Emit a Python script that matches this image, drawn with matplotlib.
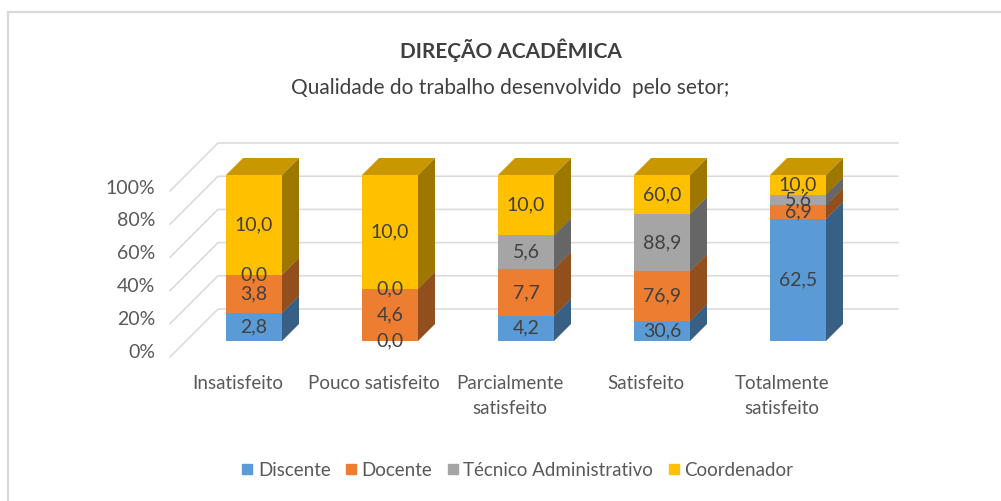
import numpy as np
import matplotlib.pyplot as plt
from matplotlib.lines import Line2D
from matplotlib.colors import to_rgb

plt.rcParams['font.family'] = ['Lato', 'DejaVu Sans']

# dados
categorias = ["Insatisfeito", "Pouco satisfeito", "Parcialmente\nsatisfeito",
              "Satisfeito", "Totalmente\nsatisfeito"]
discente = [2.8, 0.0, 4.2, 30.6, 62.5]
docente = [3.8, 4.6, 7.7, 76.9, 6.9]
tecnico = [0.0, 0.0, 5.6, 88.9, 5.6]
coordenador = [10.0, 10.0, 10.0, 60.0, 10.0]
series = ["Discente", "Docente", "Técnico Administrativo", "Coordenador"]
cores = ["#5B9BD5", "#ED7D31", "#A5A5A5", "#FFC000"]
yticks = [0, 20, 40, 60, 80, 100]

valores = np.array([discente, docente, tecnico, coordenador])
perc = valores / valores.sum(axis=0) * 100

# layout em pixels (projecao obliqua tipo excel 3d)
W, H = 1001, 501
PX = 136.0          # px por categoria
PY = 1.66           # px por ponto percentual
X0, Y0 = 186, 341   # pixel de x=-0.5, y=0 no plano frontal das barras
BW = 56 / PX        # largura da barra
BD = 17             # profundidade da barra (px)
FRENTE = -16        # chao frontal (px)
FUNDO = 32          # parede do fundo (px)


def dz(d):
    return d / PX, d / PY


def escurece(c, f):
    r, g, b = to_rgb(c)
    return (r * f, g * f, b * f)


fig = plt.figure(figsize=(W / 100, H / 100), dpi=100)
ax = fig.add_axes([0, 0, 1, 1])
ax.set_xlim(-0.5 - X0 / PX, -0.5 + (W - X0) / PX)
ax.set_ylim((Y0 - H) / PY, Y0 / PY)
ax.axis('off')

# grade: parede lateral + parede do fundo
fx, fy = dz(FRENTE)
bx, by = dz(FUNDO)
for t in yticks:
    ax.plot([-0.5 + fx, -0.5 + bx, 4.5 + bx], [t + fy, t + by, t + by],
            color="#D9D9D9", lw=1.1, zorder=1)
    ax.text(-0.5 + (155 - X0) / PX, (Y0 - (352 - 1.64 * t)) / PY,
            f"{t}%", ha='right', va='center', fontsize=14, color="#595959")

# barras empilhadas com faces lateral e superior
x = np.arange(len(categorias))
ddx, ddy = dz(BD)
base = np.zeros(len(categorias))
for s in range(len(series)):
    h = perc[s]
    ax.bar(x, h, BW, bottom=base, color=cores[s], zorder=3, linewidth=0)
    for i in range(len(x)):
        if h[i] <= 0:
            continue
        xr = x[i] + BW / 2
        ax.fill([xr, xr + ddx, xr + ddx, xr],
                [base[i], base[i] + ddy, base[i] + h[i] + ddy, base[i] + h[i]],
                color=escurece(cores[s], 0.62), lw=0, zorder=3)
        topo = base[i] + h[i]
        ax.fill([x[i] - BW / 2, xr, xr + ddx, x[i] - BW / 2 + ddx],
                [topo, topo, topo + ddy, topo + ddy],
                color=escurece(cores[s], 0.79), lw=0, zorder=2.9)
    for i in range(len(x)):
        ax.text(x[i], base[i] + h[i] / 2, f"{valores[s][i]:.1f}".replace('.', ','),
                ha='center', va='center', fontsize=14, color="#404040", zorder=5)
    base = base + h

# rotulos das categorias
for i, c in enumerate(categorias):
    ax.text(x[i] + fx, (Y0 - 375) / PY, c, ha='center', va='top', fontsize=13.5,
            color="#595959", linespacing=1.6)

# titulo
fig.text(0.51, 1 - 50 / H, "DIREÇÃO ACADÊMICA", ha='center', va='center',
         fontsize=15, fontweight='bold', color="#404040")
fig.text(0.51, 1 - 88 / H, "Qualidade do trabalho desenvolvido  pelo setor;",
         ha='center', va='center', fontsize=15, color="#404040")

# legenda
handles = [Line2D([], [], marker='s', ls='', markersize=7, color=c) for c in cores]
fig.legend(handles, series, loc='center', bbox_to_anchor=(0.515, 1 - 470 / H),
           ncol=4, frameon=False, fontsize=13.5, handletextpad=0.05,
           handlelength=1.0, columnspacing=0.6, labelcolor="#595959")

# moldura
fig.add_artist(Line2D([8 / W, 8 / W], [0, 1 - 12 / H], color="#D9D9D9", lw=1.6))
fig.add_artist(Line2D([8 / W, 1], [1 - 12 / H, 1 - 12 / H], color="#D9D9D9", lw=1.6))

fig.savefig("out.png", dpi=100)
